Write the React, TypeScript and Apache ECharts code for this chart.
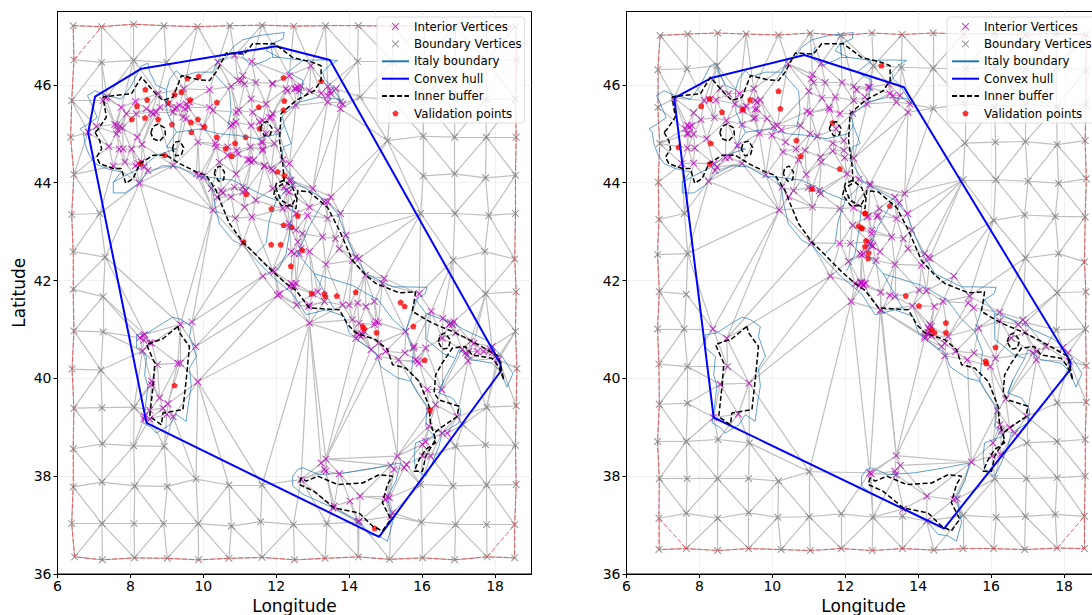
import React, { useEffect, useRef } from "react";
import * as echarts from "echarts";

// All coordinates are lon, lat pairs read from the reference picture (estimates).
const mainland = [7.53,43.79,7.53,44.01,7.75,44.22,7.34,44.29,7.03,44.39,6.87,44.56,6.75,44.8,6.71,45.03,6.62,45.1,6.82,45.19,7.09,45.33,6.89,45.68,6.82,45.78,7.03,45.88,7.34,45.78,7.75,45.71,8.03,45.99,8.16,46.19,8.3,46.39,8.48,46.44,8.53,46.26,8.71,45.99,8.99,45.9,9.08,46.12,9.26,46.29,9.42,46.17,9.81,46.26,10.26,46.26,10.4,46.5,10.63,46.56,10.81,46.77,11.08,46.92,11.54,47.01,12.22,47.07,12.19,46.94,11.86,46.84,11.72,46.7,12.09,46.56,12.73,46.5,13.27,46.51,13.68,46.5,13.45,46.39,13.27,46.26,13.32,46.12,13.5,45.99,13.82,45.61,13.73,45.71,13.18,45.75,12.63,45.65,12.34,45.48,12.16,45.37,12.22,45.17,12.41,44.8,12.2,44.73,12.13,44.46,12.31,44.25,12.5,44.01,12.91,43.84,13.36,43.64,13.68,43.37,13.89,42.96,14.14,42.52,14.46,42.14,15.19,41.87,15.55,41.87,16.14,41.86,16.08,41.73,15.82,41.61,16.1,41.33,16.83,41.13,17.19,40.98,17.74,40.79,18.19,40.45,18.49,40.1,18.33,39.82,18.15,40.14,17.92,40.31,17.37,40.38,17.01,40.59,16.92,40.41,16.6,39.97,16.46,39.7,16.83,39.6,17.06,39.36,17.01,39.09,16.55,38.88,16.46,38.61,16.28,38.27,16.1,38,15.82,38.14,15.78,38.41,15.82,38.68,16.33,38.82,16.1,39.02,16.14,39.43,15.87,39.7,15.69,39.94,15.32,40.01,14.87,40.24,14.73,40.52,14.27,40.76,14,40.93,13.86,41.27,13.36,41.4,12.82,41.3,12.45,41.73,11.9,42.07,11.54,42.35,11.08,42.72,10.81,42.82,10.44,43.16,10.31,43.57,10.26,43.84,10.08,44.12,9.81,44.12,9.35,44.32,8.89,44.35,8.44,44.18,8.16,43.95,7.85,43.79,7.53,43.79];
const sardinia = [9.17,41.25,8.89,41.13,8.48,40.93,8.17,40.89,8.17,40.62,8.44,40.45,8.39,40.07,8.48,39.84,8.39,39.29,8.35,39.09,8.58,38.99,8.71,38.88,9.08,39.05,9.26,39.26,9.53,39.12,9.58,39.43,9.67,39.84,9.62,40.21,9.81,40.45,9.62,40.86,9.67,41.06,9.4,41.2,9.17,41.25];
const sicily = [12.45,38,12.59,38.14,12.73,38.17,13.18,38.03,13.91,38.07,14.73,38.17,15.19,38.24,15.41,38.27,15.28,37.9,15.05,37.59,15.19,37.05,15.05,36.67,14.82,36.78,14.55,36.81,14.18,37.12,13.45,37.39,12.73,37.63,12.45,37.8,12.45,38];
const regionLines = [
  [8.99,44.73,9.26,45.03,9.9,45.1,10.44,45,10.92,44.97,11.48,44.9,12.08,45,12.22,45.17],
  [10.26,46.26,10.72,45.88,10.76,45.48,10.67,45.14],
  [11.17,46.77,11.08,46.56,11.35,46.39,11.72,46.5,11.86,46.56],
  [10.08,44.12,10.81,44.05,11.54,43.78,12,43.64,12.5,44.01],
  [12,43.64,11.81,43.23,11.72,42.76,11.45,42.55],
  [12.45,43.5,12.36,42.96,12.27,42.55,12.04,42.2],
  [13.3,43.62,12.9,43.1,12.59,42.55,13.04,42.14,13.6,41.4],
  [13.04,42.14,14.09,41.9,14.8,41.6,15.2,41.2,15.55,40.96,15.82,41.61],
  [15.55,40.96,15.76,40.55,15.69,39.94],
  [16.1,41.33,16.1,40.8,16.6,40.5,16.92,40.41],
  [7.53,44.01,7.87,44.15,8.34,44.32,8.71,44.56,9.26,44.69,8.99,44.73],
  [8.99,45.9,9.0,45.45,9.26,45.03],
  [12.73,46.5,12.32,46.26,12.73,46.09,12.63,45.65],
  [11.86,46.84,11.9,46.56,12.09,46.56],
  [16.46,39.7,16.6,39.97],
];
const bufferMain = [7.03,45.03,7.16,44.86,7.21,44.69,7.07,44.52,7.16,44.39,7.53,44.29,7.75,44.29,7.87,43.99,8.07,44.08,8.26,44.39,8.62,44.56,8.99,44.56,9.35,44.39,9.81,44.22,10.08,44.15,10.35,43.84,10.49,43.57,10.72,43.16,11.08,42.79,11.45,42.52,11.9,42.18,12.27,41.94,12.54,41.8,12.91,41.44,13.73,41.4,13.96,41.1,14.18,40.93,14.73,40.79,15.05,40.59,15.19,40.28,15.55,40.21,15.92,39.94,16.19,39.43,16.23,39.09,16.37,38.75,16.1,38.41,16.01,38.1,15.78,38.1,15.92,38.34,16.1,38.55,16.37,38.68,16.33,38.88,16.51,38.99,16.96,39.22,17.01,39.43,16.46,39.56,16.33,39.7,16.37,40.07,16.55,40.31,16.83,40.62,17.19,40.65,17.37,40.48,17.92,40.41,18.1,40.24,18.24,39.97,18.1,40.45,17.37,40.76,16.92,40.93,16.28,41.13,15.73,41.37,15.78,41.57,15.82,41.77,15.37,41.75,14.73,41.94,14.46,42.11,14.09,42.41,13.73,43.03,13.41,43.49,12.91,43.81,12.59,43.84,12.54,43.47,12.13,43.64,11.99,43.88,12.22,44,12.18,44.39,12.09,44.86,12.13,45.41,12.54,45.68,13.04,45.88,13.23,46.09,13.23,46.39,13,46.46,12.45,46.56,11.95,46.84,11.35,46.84,11.13,46.63,10.63,46.65,10.35,46.26,10.17,46.09,9.9,46.1,9.4,46.19,9.17,45.75,8.89,45.68,8.62,45.88,8.3,46.16,8.03,45.82,7.53,45.78,7.25,45.75,7.34,45.34,7.12,45.1,7.03,45.03];
const bufferSardinia = [9.3,41.06,8.89,40.81,8.44,40.69,8.67,40.31,8.62,39.84,8.53,39.22,8.85,39.05,8.89,39.29,9.44,39.36,9.53,39.97,9.62,40.65,9.35,40.93,9.3,41.06];
const bufferSicily = [12.68,37.97,12.63,37.83,13.04,37.69,13.59,37.35,14.27,37.25,14.64,36.98,14.91,36.88,15.14,37.12,14.91,37.46,15.05,37.83,15.19,38,14.82,38.03,14.37,37.86,13.68,37.83,13.14,38,12.82,37.9,12.68,37.97];
const bufferHoles = [
  [8.56,45.02,8.62,45.15,8.76,45.2,8.94,45.12,8.96,44.98,8.8,44.85,8.62,44.9,8.56,45.02],
  [9.15,44.69,9.2,44.82,9.35,44.85,9.46,44.72,9.4,44.57,9.24,44.55,9.15,44.69],
  [10.3,44.18,10.34,44.3,10.46,44.34,10.58,44.22,10.56,44.06,10.42,44.03,10.3,44.18],
  [11.56,45.1,11.62,45.22,11.75,45.25,11.88,45.12,11.84,44.98,11.68,44.96,11.56,45.1],
  [16.44,40.75,16.5,40.88,16.62,40.93,16.78,40.78,16.72,40.62,16.55,40.6,16.44,40.75],
  [11.93,43.75,12,43.98,12.2,44.05,12.45,43.9,12.55,43.7,12.42,43.53,12.15,43.53,11.93,43.75],
];

const leftRing = [6.43,47.21,7.21,47.19,8.09,47.24,8.92,47.21,9.84,47.19,10.73,47.21,11.61,47.22,12.48,47.2,13.35,47.21,14.25,47.21,15.18,47.2,16.05,47.21,16.9,47.2,17.75,47.2,18.56,47.19,18.59,46.51,18.56,45.71,18.58,44.93,18.56,44.15,18.56,43.37,18.54,42.44,18.58,41.77,18.56,40.96,18.6,40.2,18.58,39.44,18.56,38.63,18.58,37.83,18.54,37.01,18.54,36.33,17.78,36.35,16.89,36.29,16.01,36.33,15.11,36.3,14.25,36.35,13.34,36.32,12.5,36.29,11.61,36.34,10.7,36.32,9.87,36.29,9.01,36.32,8.11,36.33,7.23,36.29,6.47,36.35,6.39,37.03,6.43,37.78,6.43,38.56,6.45,39.39,6.4,40.19,6.45,40.97,6.43,41.82,6.43,42.59,6.39,43.35,6.45,44.17,6.36,44.93,6.39,45.68,6.45,46.51,6.43,47.21];
const leftRingExtra = [[6.45,46.51,7.21,47.19],[17.78,36.35,18.54,37.01]];
const leftOuterNodes = [7.21,46.46,8.09,46.5,8.99,46.46,7.16,43.37,7.31,42.48,7.25,41.67,14.23,46.48,14.3,45.75,15.05,44.86,16.03,44.95,16.89,44.93,17.76,44.93,16.03,44.14,16.89,44.18,17.74,44.1,15.96,43.37,16.9,43.37,17.83,43.33,16.85,42.42,17.72,42.59,17.74,41.73,15.19,46.48,16.05,46.5,16.9,46.48,17.75,46.5,15.15,45.7,16.05,45.7,16.9,45.7,17.75,45.7,7.25,40.95,7.19,40.17,7.22,39.4,8.1,39.41,7.23,38.66,8.09,38.62,8.93,38.61,7.22,37.88,8.12,37.8,9.01,37.79,9.8,37.94,10.7,37.82,11.61,37.82,7.22,37.03,8.1,37.03,8.91,37.03,9.86,37.03,10.77,36.98,11.57,37.07,12.47,37.01,13.39,37.03,14.26,37.07,15.98,37.06,16.92,37.01,17.77,37.01,15.96,37.83,16.85,37.8,17.77,37.82,16.92,38.61,17.74,38.64,17.77,39.41,17.12,39.05];
const leftInterior = [7.33,45.73,7.25,45.68,7.36,45.76,7.07,45.15,6.84,45.03,7.62,45.17,7.71,45.15,7.66,45.07,7.62,45,7.78,45.12,7.57,45.19,7.41,44.74,7.69,44.69,7.8,44.69,8.03,44.69,8.32,44.78,8.19,44.93,7.53,44.34,7.85,44.42,8.21,44.39,8.3,44.42,8.37,44.32,8.48,44.25,8.14,44.35,8.25,43.99,9.17,44.35,7.89,45.41,7.75,45.54,8.14,45.66,8.16,45.41,8.44,45.51,8.76,45.82,8.81,45.54,9.03,45.61,8.62,45.41,8.57,45.44,8.71,45.44,9.21,45.51,9.26,45.54,9.17,45.44,9.35,45.58,9.49,45.51,9.53,45.61,9.58,45.54,9.62,45.65,9.44,45.34,9.53,45.31,9.46,45.92,10.17,45.9,10.17,45.54,10.26,45.48,10.76,45.17,10.81,45.2,9.99,45.14,10.4,46.46,10.86,46.6,11.33,46.48,10.76,45.97,10.95,46.09,11.08,46.19,11.13,46.02,11.04,46.09,11.44,46.05,11.9,46.02,12.27,45.92,12.54,45.92,12.59,45.95,12.63,45.88,11.31,45.71,10.9,45.44,10.97,45.48,11.35,45.44,11.72,45.61,11.9,45.41,11.86,45.34,11.54,45.24,11.31,45.17,10.9,45.24,9.85,44.83,10.33,44.8,10.35,44.73,10.67,44.73,10.92,44.66,10.95,44.59,11.29,44.73,11.63,44.83,11.95,44.8,11.63,44.69,11.27,44.47,11.31,44.42,11.22,44.47,11.38,44.46,10.67,44.56,10.44,44.42,10.9,44.18,11.67,44.34,11.9,44.25,12.36,44.39,9.9,44.15,10,44.12,9.81,44.18,10.22,43.88,10.49,43.84,10.53,43.79,10.38,43.7,10.26,43.44,10.85,43.91,10.76,43.71,11.08,43.91,11.17,43.84,11.08,43.81,11.44,43.64,11.13,43.5,10.88,43.27,11.33,43.3,11.9,43.88,12.36,44.05,12.45,43.95,12.27,43.84,12.54,43.37,12.36,43.1,11.08,42.77,11.9,42.21,11.95,42.18,11.63,42.09,12.09,41.73,12.45,41.9,12.5,41.87,12.41,41.94,12.36,41.87,12.54,41.94,12.95,46.39,13.41,45.97,13.64,45.92,13.5,45.82,13.41,45.78,13.48,45.88,13.23,45.83,12.91,45.88,12.5,45.92,12.68,45.97,12.31,45.88,12.36,46.19,11.89,46.03,13.76,45.65,13.82,45.61,13.76,45.51,13.41,45.65,12.54,45.58,11.81,45.33,11.63,45.27,12.04,45.07,11.72,45,11.59,44.83,11.63,44.66,12.18,44.47,11.68,44.35,11.86,44.29,12.41,44.05,12.22,43.91,12.36,43.81,13,43.88,13.41,43.61,13.5,43.71,13.32,43.61,12.91,43.5,13.41,43.27,12.86,43.33,13.76,43.37,12.31,43.5,12.18,43.47,12.36,43.16,12.54,43.03,12.72,42.96,13.27,42.89,13.62,42.86,13.91,42.93,12.59,42.79,12.63,42.55,12.68,42.65,12.5,42.55,12.41,42.59,12.91,42.59,13.73,42.65,13.36,42.33,14.18,42.48,14.27,42.45,14.09,42.41,14.44,42.11,14.96,42.04,14.91,41.94,15.92,41.73,13,41.73,13.14,41.77,12.04,41.7,12.56,41.5,12.91,41.5,12.89,41.47,12.91,41.13,13.32,41.57,13.82,41.5,14.23,41.54,14,41.5,14.46,41.47,14.69,41.57,14.09,41.2,14.27,41.13,14.73,41.16,14.8,41.14,14.69,41.1,14.27,40.89,14.23,40.93,14.37,40.89,14.18,40.82,14.32,40.86,14.41,40.96,14.8,40.72,14.6,40.59,14.8,40.45,15,40.55,15.35,40.38,15.55,40.96,15.53,40.52,15.78,40.65,15.76,40.62,16.1,40.62,15.87,40.35,15.92,40.31,15.82,40.38,16.25,41.37,16.57,41.23,16.78,41.13,16.83,41.1,16.87,41.16,16.74,41.1,16.55,40.82,16.92,40.93,16.14,39.77,16.54,39.77,16.37,39.46,16.19,39.33,16.96,39.22,16.19,39.02,16.55,38.88,16.69,38.88,16.01,38.65,16.1,38.71,16.01,38.41,16.23,38.41,17.33,40.76,17.42,40.72,17.1,40.59,17.19,40.52,17.24,40.48,17.28,40.55,17.26,40.36,17.51,40.55,17.69,40.55,17.87,40.59,17.92,40.52,18.01,40.45,18.06,40.41,18.1,40.38,17.92,40.65,13.36,38.35,13.23,38.27,13.32,38.14,13.36,38.1,13.73,38.05,12.68,37.93,15.32,38.41,15.14,38.22,15.23,38.14,15.51,38.17,15.57,38.24,14.3,37.59,14.02,37.49,15,37.52,15.05,37.59,15.1,37.56,13.55,37.35,13.59,37.39,14.23,37.06,14.27,37.08,15.19,37.25,15.14,37.18,8.35,40.87,8.26,40.83,8.39,40.9,8.37,40.78,8.58,40.72,8.53,40.73,8.33,40.56,9.37,41.1,9.69,41.15,9.79,40.65,8.74,40.28,9.3,40.31,9.37,40.31,9.85,39.93,8.58,39.94,8.58,39.87,8.8,39.6,9.03,39.48,8.89,39.39,9,39.26,9.17,39.22,8.53,39.35,8.39,39.22,8.53,39.17,8.37,39.17];
const leftValidation = [8.41,45.9,8.18,45.56,8.46,45.69,8.04,45.29,8.4,45.32,8.76,45.29,9.03,45.63,9.21,45.8,9.4,45.85,9.64,45.69,9.56,46.13,9.87,46.17,10.37,45.64,9.14,45.19,9.66,45.23,9.85,45.29,9.67,45.03,10.03,45.14,10.37,44.93,10.87,44.8,11.16,44.93,10.61,44.69,10.78,44.54,8.94,44.56,8.28,44.39,12.04,44.22,12.22,44.14,11.18,43.76,11.87,43.46,12.2,43.13,12.42,43.09,11.86,42.73,12.12,42.73,11.1,42.78,11.54,45.1,11.52,45.54,12.2,46.14,12.22,45.67,12.2,45.48,12.59,43.32,12.4,42.29,13.23,46.07,12.71,42.62,14.18,41.76,13.66,41.68,13.32,41.73,13.35,41.67,12.97,41.73,14.37,41.06,14.41,41.01,14.75,40.93,15.41,41.55,15.52,41.47,15.76,41.06,16.07,40.37,16.22,39.35,14.7,36.93,9.21,39.85];
const leftHull = [6.84,45.02,7.03,45.76,8.3,46.33,11.99,46.79,13.47,46.51,18.15,40.3,18.15,40.14,14.82,36.76,8.44,39.09,6.84,45.02];

const rightRing = [6.92,47.01,7.68,47.04,8.5,47.06,9.28,47.04,10.17,47.02,11.04,47.06,11.88,47.01,12.73,47.06,13.56,47.03,14.41,47.06,15.25,47.04,16.1,47.05,16.95,47.03,17.8,47.05,18.6,47.03,18.6,46.3,18.6,45.6,18.58,44.86,18.61,44.08,18.58,43.3,18.56,42.38,18.6,41.77,18.59,41.01,18.61,40.26,18.61,39.51,18.58,38.75,18.58,38,18.56,37.18,18.56,36.52,17.81,36.53,16.92,36.5,16.07,36.52,15.23,36.52,14.43,36.49,13.57,36.52,12.74,36.48,11.89,36.52,11.04,36.48,10.24,36.5,9.35,36.52,8.5,36.48,7.64,36.52,6.89,36.5,6.89,37.14,6.9,37.95,6.85,38.71,6.9,39.47,6.89,40.29,6.85,41.01,6.9,41.77,6.85,42.53,6.89,43.25,6.87,44.01,6.91,44.8,6.86,45.54,6.86,46.31,6.92,47.01];
const rightRingExtra = [[6.89,37.14,7.64,36.52],[17.81,36.53,18.56,37.18]];
const rightOuterNodes = [7.66,46.33,8.48,46.39,7.59,43.37,7.68,42.55,7.64,41.72,12.77,46.39,13.54,46.36,14.41,46.34,14.41,45.52,15.28,44.81,16.12,44.83,16.94,44.84,17.81,44.78,15.23,44.06,16.13,44.06,17.01,44.03,17.85,43.99,16.07,43.23,16.92,43.34,17.76,43.31,16.94,42.46,17.85,42.55,17.81,41.75,15.3,46.33,16.1,46.35,16.95,46.33,17.8,46.35,15.28,45.61,16.1,45.55,16.95,45.6,17.8,45.55,7.58,41.01,7.67,40.24,7.67,39.49,7.64,38.71,8.51,38.75,9.37,38.68,7.66,37.95,8.5,37.95,9.35,37.95,10.17,37.9,11.01,38.09,7.64,37.24,8.5,37.14,9.35,37.25,10.15,37.16,11.01,37.17,11.89,37.23,12.76,37.16,13.57,37.18,15.23,37.2,16.14,37.16,16.94,37.18,17.76,37.22,16.1,37.95,16.97,37.95,17.81,37.97,16.98,38.68,17.81,38.71,17.81,39.5,17.79,40.99];
const rightInterior = [8.37,41.01,8.75,40.82,8.77,40.24,8.57,39.88,9.36,39.9,9.07,39.27,8.39,39.2,12.16,41.57,12.71,38.05,12.96,41.4,7.31,45.73,8.13,45.68,8.28,45.7,8.46,45.69,8.57,45.93,8.8,45.82,7.84,45.43,8.04,45.29,8.41,45.33,8.74,45.27,8.98,45.61,9.1,45.82,9.19,45.48,9.19,45.53,9.28,45.56,9.49,45.92,9.53,45.68,9.67,45.69,9.58,45.65,9.58,45.51,9.53,45.5,9.49,45.31,9.53,45.33,9.17,45.19,9.85,45.31,10.03,45.15,10.13,45.17,7.67,45.17,7.73,45.14,7.61,45.1,7.79,45.17,7.66,45,7.84,44.99,7.7,45,8.2,44.9,7.67,44.71,7.87,44.71,7.84,44.4,7.52,44.39,8.39,44.39,8.43,44.25,8.48,44.32,8.25,44.03,8.71,44.51,8.83,44.52,9.17,44.39,9.05,44.76,9.64,45.01,9.82,44.16,9.99,44.97,10.25,45.08,10.36,44.83,10.65,44.69,10.77,45.17,11.04,45,11.23,44.95,10.29,44.63,10.72,44.47,10.9,44.66,11.32,44.52,11.34,44.42,10.93,44.17,10.26,43.91,10.45,43.71,10.58,43.84,10.99,43.9,11.09,43.88,11.29,43.84,11.32,43.78,10.19,43.44,11.1,43.5,11.07,42.77,11.85,43.47,11.85,42.76,12.14,42.76,12.2,43.13,11,45.87,11.1,46.21,11.06,46.12,11.13,46.05,11.45,46.05,11.91,46.05,11.34,46.44,10.43,46.43,11.36,45.73,11.73,45.75,11.55,45.54,11.57,45.5,10.95,45.46,11.04,45.43,11.85,45.41,12.23,45.97,12.31,45.9,12.67,45.95,12.23,45.68,12.6,45.61,12.2,45.42,11.96,44.86,11.66,44.81,11.96,44.66,11.66,44.65,11.98,44.51,12.23,44.5,11.75,45.1,12.37,44.07,12.05,44.18,12.69,43.95,12.23,43.49,12.6,43.3,12.87,43.31,12.73,43.03,12.69,42.76,12.73,42.72,12.64,42.79,12.41,42.55,12.5,42.55,12.09,42.39,11.59,42.09,12.44,41.94,12.5,41.9,12.37,41.9,12.27,41.94,12.41,41.97,12.55,41.94,12.63,45.95,12.54,45.75,13.18,46.02,13.22,45.82,13.31,45.78,13.5,45.78,13.4,45.65,13.72,45.44,13.77,45.61,12.67,43.97,13.36,43.71,13.63,43.78,13.48,43.59,12.93,43.47,12.63,43.32,12.9,43.33,13.71,43.37,13.4,43.27,12.72,42.96,13.27,42.89,13.59,42.86,13.82,43.03,12.67,42.74,12.75,42.7,12.95,42.59,12.84,42.41,12.45,42.52,13.36,42.33,13.72,42.65,14.09,42.31,14.18,42.55,14.27,42.48,14.32,42.45,14.98,42.09,15.41,41.68,14.03,41.8,14.23,41.79,12.97,41.76,13.22,41.7,13.36,41.67,12.45,41.96,12.49,41.92,12.99,41.39,13.84,41.48,14.44,41.47,14.68,41.57,15.37,41.54,15.52,41.44,16.24,41.35,16.24,41.18,16.74,41.1,16.87,41.2,16.94,41.14,16.94,40.94,15.66,41.03,16.55,40.82,14.32,41.1,14.36,41.06,14.27,41.03,14.18,40.86,14.27,40.89,14.32,40.93,14.18,40.82,14.36,40.87,14.27,40.94,14.82,40.86,14.73,40.72,14.64,40.65,14.73,40.46,15.03,40.55,15.35,40.38,15.53,40.52,15.98,40.24,16.12,40.41,17.5,40.65,17.15,40.52,17.24,40.55,17.24,40.38,17.97,40.63,18.11,40.52,18.15,40.35,16.4,39.58,16.17,39.34,16.98,39.22,16.24,39.05,16.28,38.93,16.51,38.99,16.65,38.88,16.05,38.68,16.03,38.41,16.26,38.44,13.4,38.42,13.51,38.22,13.36,38.1,13.39,38.03,12.67,38.07,15.46,38.29,14.24,37.59,14.98,37.52,15.07,37.54,13.59,37.33,14.23,37.08];
const rightValidation = [8.28,45.71,8.05,45.56,8.62,45.44,9.39,45.69,9.19,45.49,10.17,45.87,10.22,45.51,11.65,45.22,10.66,44.86,10.78,44.54,8.31,44.8,7.43,44.72,8.28,44.38,11.85,44.28,11.09,43.87,12.55,43.37,12.37,43.11,12.46,43.07,12.57,42.81,12.64,42.56,12.99,46.39,13.22,43.52,12.54,43.37,12.45,43.06,12.54,42.69,12.63,42.45,13.66,41.68,14.02,41.48,14.36,40.99,14.45,40.93,14.76,41.13,14.76,40.93,16.12,40.63,15.85,40.35,15.87,40.3];
const rightHull = [7.31,45.73,8.32,46.14,10.88,46.61,13.61,45.95,18.17,40.35,18.17,40.18,14.71,36.93,8.39,39.2,7.31,45.73];

const xTicks = [6, 8, 10, 12, 14, 16, 18];
const yTicks = [36, 38, 40, 42, 44, 46];
const legendNames = ["Interior Vertices", "Boundary Vertices", "Italy boundary", "Convex hull", "Inner buffer", "Validation points"];
const lineLegendNames = ["Italy boundary", "Convex hull", "Inner buffer"];

const pairs = (flat: number[]) => {
  const out: number[][] = [];
  for (let i = 0; i + 1 < flat.length; i += 2) out.push([flat[i], flat[i + 1]]);
  return out;
};
const broken = (lines: number[][]) => {
  const out: any[] = [];
  lines.forEach((l, i) => {
    if (i) out.push(["-", "-"]);
    out.push(...pairs(l));
  });
  return out;
};

// The mesh edges are not read one by one: they are the Delaunay triangulation of the read vertices.
function triangulate(points: number[][], ringSize: number) {
  const pts = points.map((p) => p.slice());
  const n = pts.length;
  pts.push([-1000, -1000], [1000, -1000], [0, 1000]);
  let tris: { a: number; b: number; c: number; x: number; y: number; r: number }[] = [];
  const make = (a: number, b: number, c: number) => {
    const [ax, ay] = pts[a], [bx, by] = pts[b], [cx, cy] = pts[c];
    const d = 2 * (ax * (by - cy) + bx * (cy - ay) + cx * (ay - by));
    const x = ((ax * ax + ay * ay) * (by - cy) + (bx * bx + by * by) * (cy - ay) + (cx * cx + cy * cy) * (ay - by)) / d;
    const y = ((ax * ax + ay * ay) * (cx - bx) + (bx * bx + by * by) * (ax - cx) + (cx * cx + cy * cy) * (bx - ax)) / d;
    return { a, b, c, x, y, r: (ax - x) ** 2 + (ay - y) ** 2 };
  };
  tris.push(make(n, n + 1, n + 2));
  for (let i = 0; i < n; i++) {
    const [px, py] = pts[i];
    const counts = new Map<string, number>();
    const keep: typeof tris = [];
    for (const t of tris) {
      if ((px - t.x) ** 2 + (py - t.y) ** 2 < t.r) {
        for (const [u, v] of [[t.a, t.b], [t.b, t.c], [t.c, t.a]]) {
          const k = u < v ? u + "," + v : v + "," + u;
          counts.set(k, (counts.get(k) || 0) + 1);
        }
      } else keep.push(t);
    }
    tris = keep;
    counts.forEach((c, k) => {
      if (c === 1) {
        const [u, v] = k.split(",").map(Number);
        const t = make(u, v, i);
        if (Number.isFinite(t.r)) tris.push(t);
      }
    });
  }
  const edges = new Set<string>();
  for (const t of tris) {
    for (const [u, v] of [[t.a, t.b], [t.b, t.c], [t.c, t.a]]) {
      if (u >= n || v >= n) continue;
      // chords between non-neighbouring ring vertices are hull slivers the reference does not draw
      if (u < ringSize && v < ringSize) {
        const gap = Math.abs(u - v);
        if (gap > 1 && gap < ringSize - 1) continue;
      }
      edges.add(u < v ? u + "," + v : v + "," + u);
    }
  }
  return Array.from(edges).map((k) => {
    const [u, v] = k.split(",").map(Number);
    return { coords: [pts[u], pts[v]] };
  });
}

const unique = (list: number[][]) => {
  const seen = new Set<string>();
  return list.filter((p) => {
    const k = p.join(",");
    if (seen.has(k)) return false;
    seen.add(k);
    return true;
  });
};

const crossPath =
  "path://M0 0L0 0M14 14L14 14M4 3.3L7 6.3L10 3.3L10.7 4L7.7 7L10.7 10L10 10.7L7 7.7L4 10.7L3.3 10L6.3 7L3.3 4Z";
const pentagonPath = "path://M0 0L0 0M14 14L14 14M7 3.7L10.14 5.98L8.94 9.67L5.06 9.67L3.86 5.98Z";
const font = "DejaVu Sans";

function panel(i: number, ring: number[], extra: number[][], outer: number[], interior: number[], validation: number[], hull: number[]) {
  const ringPts = pairs(ring).slice(0, -1);
  const outerPts = ringPts.concat(pairs(outer));
  const innerPts = pairs(interior);
  const mesh = triangulate(unique(outerPts.concat(innerPts)), ringPts.length);
  const base = { xAxisIndex: i, yAxisIndex: i, silent: true };
  const line = (name: string, data: any[], lineStyle: any) => ({
    ...base, type: "line", name, data, symbol: "none", showSymbol: false, connectNulls: false, lineStyle,
    color: lineStyle.color, itemStyle: { color: "transparent", opacity: 0 },
  });
  return [
    { ...base, type: "lines", name: "Mesh", coordinateSystem: "cartesian2d", data: mesh, lineStyle: { color: "#bfbfbf", width: 1.2, opacity: 1 } },
    line("Mesh boundary", broken([ring, ...extra]), { color: "#f4474c", width: 1, type: [5, 2], opacity: 0.85 }),
    line("Italy boundary", broken([mainland, sardinia, sicily, ...regionLines]), { color: "#1f77b4", width: 0.7 }),
    line("Convex hull", pairs(hull), { color: "#0000ff", width: 2 }),
    line("Inner buffer", broken([bufferMain, bufferSardinia, bufferSicily, ...bufferHoles]), { color: "#000000", width: 1.5, type: [5, 2.5] }),
    { ...base, type: "scatter", name: "Boundary Vertices", data: outerPts, symbol: crossPath, symbolSize: 14, itemStyle: { color: "#777777" } },
    { ...base, type: "scatter", name: "Interior Vertices", data: innerPts, symbol: crossPath, symbolSize: 14, itemStyle: { color: "#bf00bf" } },
    { ...base, type: "scatter", name: "Validation points", data: pairs(validation), symbol: pentagonPath, symbolSize: 14, itemStyle: { color: "#ff0000" } },
  ];
}

const axisCommon = {
  type: "value",
  axisLine: { show: true, onZero: false, lineStyle: { color: "#000", width: 1 } },
  splitLine: { show: true, lineStyle: { color: "#dcdcdc", width: 0.8, type: "dotted" } },
};
const xAxis = (i: number) => ({
  ...axisCommon, gridIndex: i, min: 6, max: 19, name: "Longitude", nameLocation: "middle", nameGap: 23,
  nameTextStyle: { fontFamily: font, fontSize: 17, color: "#000" },
  axisTick: { show: true, length: 4, customValues: xTicks, lineStyle: { color: "#000" } },
  axisLabel: { customValues: xTicks, fontFamily: font, fontSize: 14, color: "#000", margin: 5 },
});
const yAxis = (i: number) => ({
  ...axisCommon, gridIndex: i, min: 36, max: 47.5,
  ...(i === 0 ? { name: "Latitude", nameLocation: "middle", nameGap: 30, nameTextStyle: { fontFamily: font, fontSize: 17, color: "#000" } } : {}),
  axisTick: { show: true, length: 4, customValues: yTicks, lineStyle: { color: "#000" } },
  axisLabel: { customValues: yTicks, fontFamily: font, fontSize: 14, color: "#000", margin: 6 },
});
const legend = (left: number) => ({
  left, top: 17, orient: "vertical",
  data: legendNames.map((name) => (lineLegendNames.includes(name) ? { name, itemStyle: { opacity: 0, color: "transparent", borderWidth: 0 } } : { name })),
  itemWidth: 27, itemHeight: 14, itemGap: 3.4,
  padding: [2.5, 3, 2.5, 4], backgroundColor: "rgba(255,255,255,0.8)", borderColor: "#dddddd", borderWidth: 1, borderRadius: 3,
  textStyle: { fontFamily: font, fontSize: 11.8, color: "#000", lineHeight: 14, height: 14 }, selectedMode: false,
});

export default function App() {
  const ref = useRef<HTMLDivElement>(null);
  useEffect(() => {
    const chart = echarts.init(ref.current!, undefined, { renderer: "svg" });
    const gridBase = { top: 11.5, width: 474, height: 562.5, show: true, borderColor: "#000", borderWidth: 1, backgroundColor: "transparent", outerBoundsMode: "none" };
    chart.setOption({
      animation: false,
      backgroundColor: "#fff",
      grid: [{ ...gridBase, left: 57.5 }, { ...gridBase, left: 626.5 }],
      xAxis: [xAxis(0), xAxis(1)],
      yAxis: [yAxis(0), yAxis(1)],
      legend: [legend(377), legend(947)],
      series: [
        ...panel(0, leftRing, leftRingExtra, leftOuterNodes, leftInterior, leftValidation, leftHull),
        ...panel(1, rightRing, rightRingExtra, rightOuterNodes, rightInterior, rightValidation, rightHull),
      ],
    });
    return () => chart.dispose();
  }, []);
  return <div ref={ref} style={{ position: "fixed", left: 0, top: 0, width: 1092, height: 615, overflow: "hidden" }} />;
}
